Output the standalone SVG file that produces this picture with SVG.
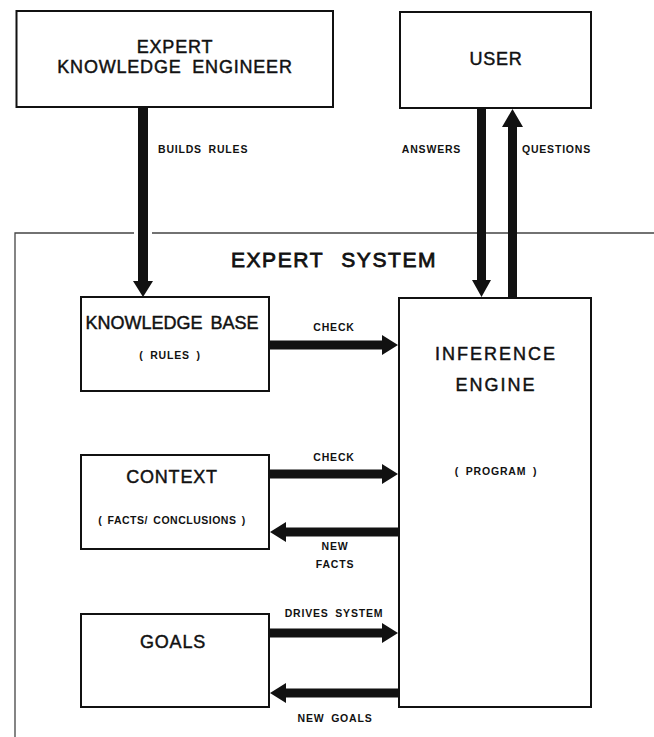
<svg xmlns="http://www.w3.org/2000/svg" width="654" height="737" viewBox="0 0 654 737">
<style>
.box{fill:#fff;stroke:#111;stroke-width:2}
.frame{stroke:#444;stroke-width:1.3;fill:none}
.arr{fill:#111}
.big{font-family:"Liberation Sans",Arial,sans-serif;font-size:18px;fill:#111;stroke:#111;stroke-width:0.45;letter-spacing:0.8px}
.title{font-family:"Liberation Sans",Arial,sans-serif;font-size:21px;fill:#111;stroke:#111;stroke-width:0.8;letter-spacing:1.6px;word-spacing:10px}
.sm{font-family:"Liberation Sans",Arial,sans-serif;font-size:10.5px;font-weight:bold;fill:#111;letter-spacing:0.8px;word-spacing:3px}
</style>
<rect width="654" height="737" fill="#fff"/>
<g id="frame">
<path class="frame" d="M15,737 V233 H134 M152,233 H654"/>
<text class="title" x="334" y="267" text-anchor="middle">EXPERT SYSTEM</text>
</g>
<g id="connectors">
<polygon class="arr" points="138,107 148,107 148,281 153,281 143,297 133,281 138,281"/>
<polygon class="arr" points="477,108 486,108 486,280 491,280 481.5,297 472,280 477,280"/>
<polygon class="arr" points="508,298 517,298 517,127 523,127 512.5,109 502,127 508,127"/>
<polygon class="arr" points="270,340.5 382,340.5 382,335 398,345 382,355 382,349.5 270,349.5"/>
<polygon class="arr" points="270,469.5 382,469.5 382,464 398,474 382,484 382,478.5 270,478.5"/>
<polygon class="arr" points="399,527.5 286,527.5 286,522 270,532 286,542 286,536.5 399,536.5"/>
<polygon class="arr" points="269,628.5 382,628.5 382,623 398,633 382,643 382,637.5 269,637.5"/>
<polygon class="arr" points="399,688.5 286,688.5 286,683 270,693 286,703 286,697.5 399,697.5"/>
<text class="sm" x="158" y="153">BUILDS RULES</text>
<text class="sm" x="431.5" y="153" text-anchor="middle">ANSWERS</text>
<text class="sm" x="556.5" y="153" text-anchor="middle">QUESTIONS</text>
<text class="sm" x="334" y="331" text-anchor="middle">CHECK</text>
<text class="sm" x="334" y="461" text-anchor="middle">CHECK</text>
<text class="sm" x="335" y="550" text-anchor="middle">NEW</text>
<text class="sm" x="335" y="568" text-anchor="middle">FACTS</text>
<text class="sm" x="334" y="617" text-anchor="middle">DRIVES SYSTEM</text>
<text class="sm" x="335" y="722" text-anchor="middle">NEW GOALS</text>
</g>
<g id="expert">
<rect class="box" x="16.5" y="11" width="316.5" height="96"/>
<text class="big" x="175" y="53" text-anchor="middle">EXPERT</text>
<text class="big" x="175" y="73" text-anchor="middle" style="word-spacing:5px">KNOWLEDGE ENGINEER</text>
</g>
<g id="user">
<rect class="box" x="400" y="12" width="191" height="96"/>
<text class="big" x="496" y="65" text-anchor="middle">USER</text>
</g>
<g id="knowledge-base">
<rect class="box" x="81" y="297" width="188" height="94"/>
<text class="big" x="172" y="329" text-anchor="middle" style="letter-spacing:0px;word-spacing:3px">KNOWLEDGE BASE</text>
<text class="sm" x="170" y="359" text-anchor="middle">( RULES )</text>
</g>
<g id="inference-engine">
<rect class="box" x="399" y="298" width="192" height="409"/>
<text class="big" x="496" y="360" text-anchor="middle" style="letter-spacing:2px">INFERENCE</text>
<text class="big" x="496" y="391" text-anchor="middle" style="letter-spacing:2px">ENGINE</text>
<text class="sm" x="496" y="475" text-anchor="middle">( PROGRAM )</text>
</g>
<g id="context">
<rect class="box" x="81" y="455" width="188" height="94"/>
<text class="big" x="172" y="483" text-anchor="middle">CONTEXT</text>
<text class="sm" x="172" y="524" text-anchor="middle" style="letter-spacing:0.5px;word-spacing:2px">( FACTS/ CONCLUSIONS )</text>
</g>
<g id="goals">
<rect class="box" x="81" y="614" width="188" height="93"/>
<text class="big" x="173" y="648" text-anchor="middle">GOALS</text>
</g>
</svg>
